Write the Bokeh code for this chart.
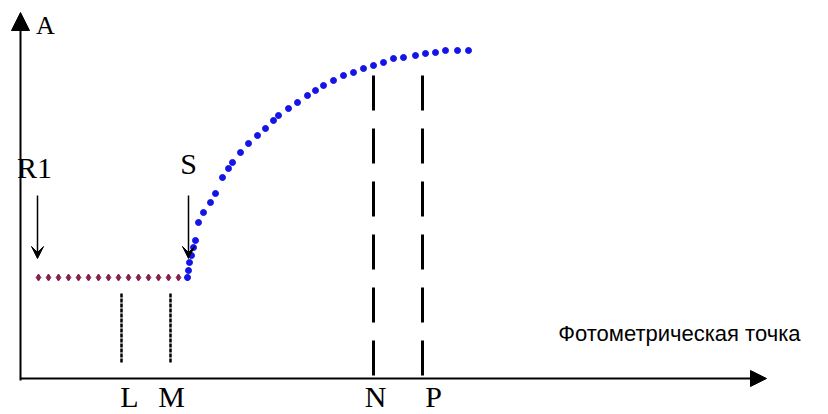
from bokeh.plotting import figure
from bokeh.models import Range1d, Arrow, NormalHead, VeeHead
from bokeh.core.properties import value
from bokeh.embed import file_html
from bokeh.resources import INLINE

# Reading of the schematic (arbitrary units: x = photometric point, y = absorbance A)
flat_x = [18, 28, 38, 48, 58, 68, 78, 88, 98, 108, 118, 128, 138, 148, 158, 167]
flat_y = [101] * 16

curve_x = [167, 168, 169, 171, 173, 175, 178, 183, 190, 195, 202, 208, 212, 220, 228, 237,
           245, 253, 258, 268, 277, 287, 295, 303, 313, 323, 333, 343, 353, 363, 373, 383,
           395, 405, 415, 425, 437, 448]
curve_y = [101, 108, 116, 123, 131, 138, 156, 166, 176, 185, 201, 210, 216, 226, 235, 243,
           250, 258, 263, 270, 276, 283, 288, 293, 298, 303, 306, 310, 313, 316, 320, 321,
           323, 325, 326, 328, 328, 328]

dotted_names = ["L", "M"]
dotted_x = [101, 150]
dotted_top = [85, 85]
dotted_bot = [15, 16]

dashed_names = ["N", "P"]
dashed_x = [353, 402]
dashed_top = [303, 303]

label_names = ["L", "M", "N", "P"]
label_x = [109, 151, 355, 413]

arrow_names = ["R1", "S"]
arrow_x = [17, 168]
arrow_top = [183, 183]
arrow_tip = [120, 120]
arrow_label_x = [14, 168]
arrow_label_y = [211, 215]

axis_x_end = 746
axis_y_end = 366

p = figure(width=828, height=414, output_backend="svg", toolbar_location=None,
           x_range=Range1d(-20, 808), y_range=Range1d(-36, 378),
           x_axis_location=None, y_axis_location=None,
           min_border=0, min_border_left=0, min_border_right=0,
           min_border_top=0, min_border_bottom=0)
p.outline_line_color = None
p.xgrid.visible = False
p.ygrid.visible = False
p.background_fill_color = "white"

# axes with arrowheads
p.add_layout(Arrow(x_start=0, y_start=0, x_end=axis_x_end, y_end=0, line_width=2,
                   line_color="black",
                   end=NormalHead(size=16, fill_color="black", line_color="black")))
p.add_layout(Arrow(x_start=0, y_start=-2, x_end=0, y_end=axis_y_end, line_width=2,
                   line_color="black",
                   end=NormalHead(size=18, fill_color="black", line_color="black")))

# dotted markers L, M
for xx, t, b in zip(dotted_x, dotted_top, dotted_bot):
    p.line([xx, xx], [t, b], line_color="black", line_width=2.5, line_dash="4 1")

# dashed markers N, P
for xx, t in zip(dashed_x, dashed_top):
    p.line([xx, xx], [t, 0], line_color="black", line_width=3, line_dash="35 18")

# series
p.scatter(flat_x, flat_y, size=7, color="#862050", marker="diamond")
p.scatter(curve_x, curve_y, size=6, color="#1414E6", marker="circle")

# down arrows R1, S
for xx, t, tip in zip(arrow_x, arrow_top, arrow_tip):
    p.add_layout(Arrow(x_start=xx, y_start=t, x_end=xx, y_end=tip, line_width=1.5,
                       line_color="black",
                       end=VeeHead(size=12, fill_color="black", line_color="black")))

serif = value("Liberation Serif")
p.text(x=arrow_label_x, y=arrow_label_y, text=arrow_names, text_font=serif,
       text_font_size="30px", text_align="center", text_baseline="middle", text_color="black")
p.text(x=label_x, y=[-18] * 4, text=label_names, text_font=serif,
       text_font_size="30px", text_align="center", text_baseline="middle", text_color="black")
p.text(x=[25], y=[353], text=["A"], text_font=serif,
       text_font_size="26px", text_align="center", text_baseline="middle", text_color="black")
p.text(x=[780], y=[45], text=["Фотометрическая точка"], text_font=value("Liberation Sans"),
       text_font_size="22px", text_align="right", text_baseline="middle", text_color="black")

open("out.html", "w").write(file_html(p, INLINE))
